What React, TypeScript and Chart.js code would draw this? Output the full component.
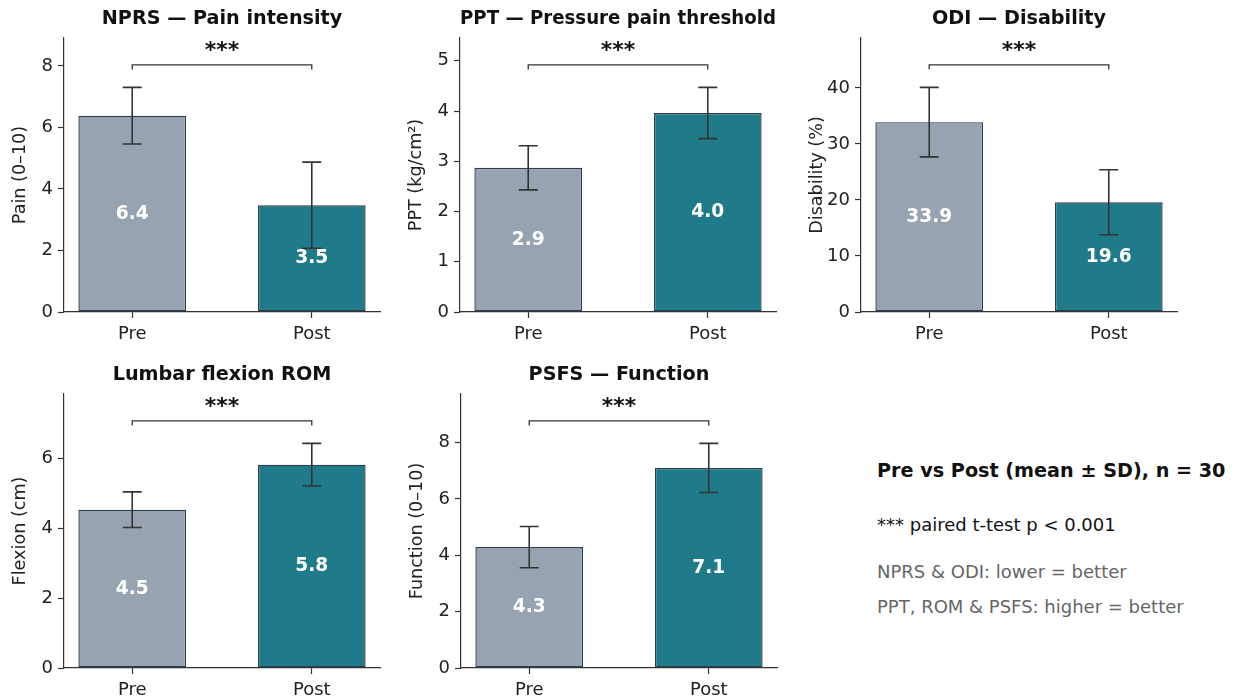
import React, { useEffect, useRef } from 'react';
import { Chart, registerables } from 'chart.js';

Chart.register(...registerables);
Chart.defaults.font.family = '"DejaVu Sans", sans-serif';

// ---------- data ----------
const categories = ['Pre', 'Post'];

const nprsMeans = [6.38, 3.47];
const nprsSD = [0.92, 1.4];

const pptMeans = [2.87, 3.96];
const pptSD = [0.44, 0.51];

const odiMeans = [33.9, 19.6];
const odiSD = [6.2, 5.8];

const romMeans = [4.54, 5.83];
const romSD = [0.51, 0.61];

const psfsMeans = [4.29, 7.1];
const psfsSD = [0.73, 0.87];

const panelTitles = [
  'NPRS — Pain intensity',
  'PPT — Pressure pain threshold',
  'ODI — Disability',
  'Lumbar flexion ROM',
  'PSFS — Function',
];
const yAxisLabels = ['Pain (0–10)', 'PPT (kg/cm²)', 'Disability (%)', 'Flexion (cm)', 'Function (0–10)'];
const yTickSteps = [2, 1, 10, 2, 2];
const sigMarks = ['***', '***', '***', '***', '***'];

const noteTitle = 'Pre vs Post (mean ± SD), n = 30';
const noteSig = '*** paired t-test p < 0.001';
const noteLower = 'NPRS & ODI: lower = better';
const noteHigher = 'PPT, ROM & PSFS: higher = better';

// ---------- style ----------
const PRE_COLOR = '#97a3b1';
const POST_COLOR = '#1f7a8a';
const EDGE_COLOR = '#2a3f4f';
const INK = '#333333';
const TEXT = '#222222';
const FONT = '"DejaVu Sans", sans-serif';

const YW = 64; // y-axis box width
const TH = 38; // title box height
const XH = 38; // x-axis box height
const AW = 316; // plot area width
const AH = 274; // plot area height
const RP = 12; // right padding
const CW = YW + AW + RP;
const CH = TH + AH + XH;

type PanelProps = {
  idx: number;
  left: number;
  top: number;
  means: number[];
  sds: number[];
};

function Panel({ idx, left, top, means, sds }: PanelProps) {
  const ref = useRef<HTMLCanvasElement>(null);

  useEffect(() => {
    const maxTop = Math.max(...means.map((m, i) => m + sds[i]));
    const yMax = maxTop * 1.22;

    const annot = {
      id: 'annot' + idx,
      afterDatasetsDraw(chart: any) {
        const ctx = chart.ctx as CanvasRenderingContext2D;
        const xs = chart.scales.x;
        const ys = chart.scales.y;
        ctx.save();
        // error bars
        ctx.strokeStyle = INK;
        ctx.lineWidth = 1.6;
        const cap = 9.5;
        means.forEach((m, i) => {
          const px = xs.getPixelForValue(i);
          const t = ys.getPixelForValue(m + sds[i]);
          const b = ys.getPixelForValue(m - sds[i]);
          ctx.beginPath();
          ctx.moveTo(px, t);
          ctx.lineTo(px, b);
          ctx.moveTo(px - cap, t);
          ctx.lineTo(px + cap, t);
          ctx.moveTo(px - cap, b);
          ctx.lineTo(px + cap, b);
          ctx.stroke();
        });
        // value labels
        ctx.fillStyle = '#ffffff';
        ctx.font = `bold 18.6px ${FONT}`;
        ctx.textAlign = 'center';
        ctx.textBaseline = 'middle';
        means.forEach((m, i) => {
          ctx.fillText(m.toFixed(1), xs.getPixelForValue(i), ys.getPixelForValue(m / 2));
        });
        // significance bracket
        const x0 = xs.getPixelForValue(0);
        const x1 = xs.getPixelForValue(categories.length - 1);
        const yb = ys.getPixelForValue(maxTop * 1.1);
        const ye = ys.getPixelForValue(maxTop * 1.08);
        ctx.strokeStyle = INK;
        ctx.lineWidth = 1.3;
        ctx.beginPath();
        ctx.moveTo(x0, ye);
        ctx.lineTo(x0, yb);
        ctx.lineTo(x1, yb);
        ctx.lineTo(x1, ye);
        ctx.stroke();
        ctx.fillStyle = '#111111';
        ctx.font = `bold 22px ${FONT}`;
        ctx.textBaseline = 'alphabetic';
        ctx.fillText(sigMarks[idx], (x0 + x1) / 2, yb - 8);
        ctx.restore();
      },
    };

    const axisGrid = {
      display: true,
      offset: false,
      drawOnChartArea: false,
      drawTicks: true,
      tickLength: 6,
      tickColor: INK,
      tickWidth: 1.2,
    };

    const chart = new Chart(ref.current as HTMLCanvasElement, {
      type: 'bar',
      data: {
        datasets: [
          {
            data: categories.map((c, i) => ({ x: i, y: means[i] })),
            backgroundColor: [PRE_COLOR, POST_COLOR],
            borderColor: EDGE_COLOR,
            borderWidth: 1.4,
            borderSkipped: false,
            categoryPercentage: 0.6,
            barPercentage: 1,
          } as any,
        ],
      },
      options: {
        animation: false,
        responsive: false,
        events: [],
        layout: { padding: { top: 0, left: 0, bottom: 0, right: RP } },
        plugins: {
          legend: { display: false },
          tooltip: { enabled: false },
          title: {
            display: true,
            text: panelTitles[idx],
            color: '#111111',
            fullSize: false,
            font: { size: 19.2, weight: 'bold' },
            padding: { top: 7, bottom: TH - 7 - 19.2 * 1.2 },
          },
        },
        scales: {
          x: {
            type: 'linear',
            offset: false,
            min: -0.38,
            max: 1.38,
            afterBuildTicks: (s: any) => {
              s.ticks = categories.map((_, i) => ({ value: i }));
            },
            afterFit: (s: any) => {
              s.height = XH;
            },
            border: { display: true, color: INK, width: 1.2 },
            grid: axisGrid,
            ticks: {
              autoSkip: false,
              maxRotation: 0,
              color: TEXT,
              padding: 6,
              font: { size: 18 },
              callback: (v: any) => categories[Number(v)] ?? '',
            },
          },
          y: {
            min: 0,
            max: yMax,
            afterFit: (s: any) => {
              s.width = YW;
            },
            border: { display: true, color: INK, width: 1.2 },
            grid: axisGrid,
            ticks: {
              stepSize: yTickSteps[idx],
              includeBounds: false,
              color: TEXT,
              padding: 5,
              font: { size: 18 },
              callback: (v: any) => String(v),
            },
            title: {
              display: true,
              text: yAxisLabels[idx],
              color: TEXT,
              font: { size: 17.6 },
              padding: { top: 9.4, bottom: 0 },
            },
          },
        },
      } as any,
      plugins: [annot],
    });
    return () => chart.destroy();
  }, [idx, means, sds]);

  return (
    <div style={{ position: 'absolute', left: left - YW, top: top - TH, width: CW, height: CH }}>
      <canvas ref={ref} width={CW} height={CH} style={{ display: 'block', width: CW, height: CH }} />
    </div>
  );
}

const noteStyle: React.CSSProperties = {
  position: 'absolute',
  left: 877,
  whiteSpace: 'nowrap',
  fontFamily: FONT,
  lineHeight: 1,
};

export default function App() {
  return (
    <div
      style={{
        position: 'absolute',
        left: 0,
        top: 0,
        width: 1236,
        height: 700,
        background: '#ffffff',
        overflow: 'hidden',
      }}
    >
      <Panel idx={0} left={64} top={38} means={nprsMeans} sds={nprsSD} />
      <Panel idx={1} left={460} top={38} means={pptMeans} sds={pptSD} />
      <Panel idx={2} left={861} top={38} means={odiMeans} sds={odiSD} />
      <Panel idx={3} left={64} top={394} means={romMeans} sds={romSD} />
      <Panel idx={4} left={461} top={394} means={psfsMeans} sds={psfsSD} />
      <div style={{ ...noteStyle, top: 461, fontSize: 19.2, fontWeight: 'bold', color: '#111' }}>{noteTitle}</div>
      <div style={{ ...noteStyle, top: 516, fontSize: 18, color: '#111' }}>{noteSig}</div>
      <div style={{ ...noteStyle, top: 563, fontSize: 18, color: '#666' }}>{noteLower}</div>
      <div style={{ ...noteStyle, top: 598, fontSize: 18, color: '#666' }}>{noteHigher}</div>
    </div>
  );
}
